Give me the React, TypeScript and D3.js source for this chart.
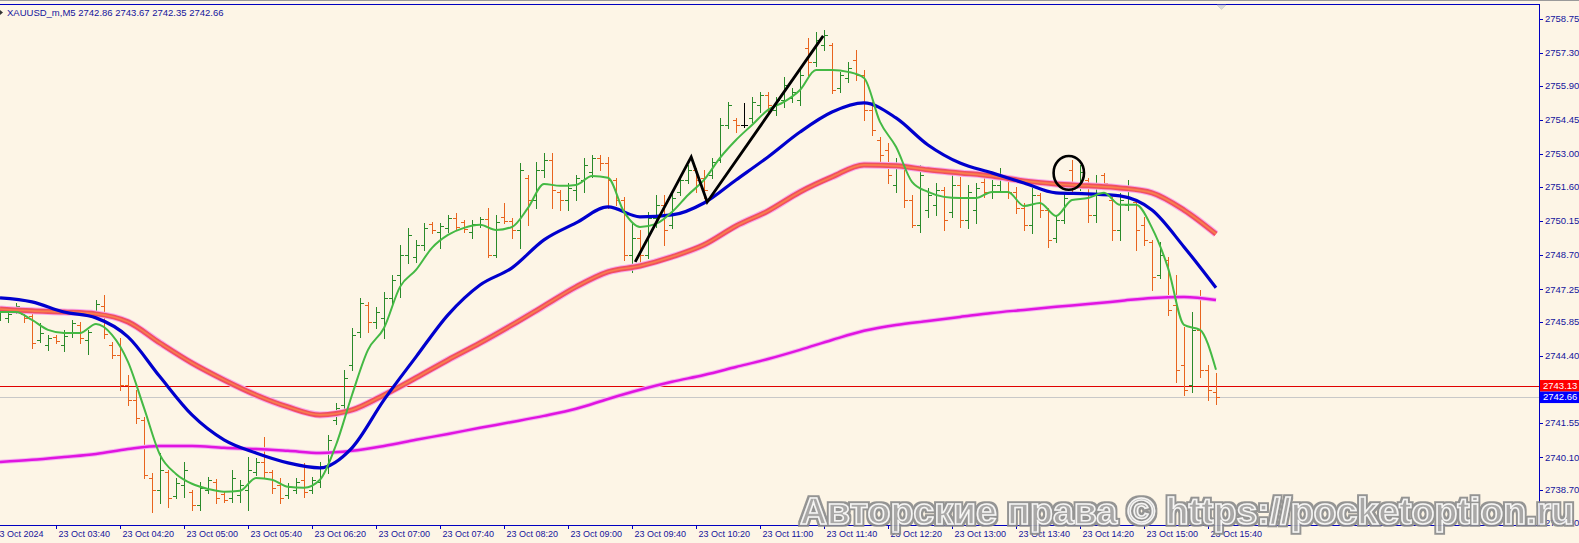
import React from "react";
import * as d3 from "d3";

// chart header
const symbolTitle = "XAUUSD_m,M5  2742.86 2743.67 2742.35 2742.66";

// bottom axis labels, one every 8 bars (40 min), first one sits one bar before the first bar
const timeLabels = [
  "23 Oct 2024", "23 Oct 03:40", "23 Oct 04:20", "23 Oct 05:00", "23 Oct 05:40",
  "23 Oct 06:20", "23 Oct 07:00", "23 Oct 07:40", "23 Oct 08:20", "23 Oct 09:00",
  "23 Oct 09:40", "23 Oct 10:20", "23 Oct 11:00", "23 Oct 11:40", "23 Oct 12:20",
  "23 Oct 13:00", "23 Oct 13:40", "23 Oct 14:20", "23 Oct 15:00", "23 Oct 15:40",
];

// right axis labels
const priceTicks = [
  2758.75, 2757.3, 2755.9, 2754.45, 2753.0, 2751.6, 2750.15, 2748.7, 2747.25,
  2745.85, 2744.4, 2741.55, 2740.1, 2738.7, 2737.3,
];

const linePrice = 2743.13; // red horizontal line
const bidPrice = 2742.66; // gray bid line

// M5 bars, open / high / low / close, 03:05 .. 15:45
const ohlc: [number, number, number, number][] = [
  [2746.11, 2746.45, 2745.94, 2746.33], [2746.03, 2746.28, 2745.86, 2746.2],
  [2746.33, 2746.66, 2746.24, 2746.54], [2746.2, 2746.28, 2745.86, 2746.03],
  [2746.11, 2746.24, 2744.75, 2744.96], [2745.09, 2745.81, 2745.01, 2745.39],
  [2744.88, 2745.31, 2744.67, 2745.18], [2745.22, 2745.31, 2744.96, 2745.05],
  [2744.88, 2745.52, 2744.62, 2745.26], [2745.43, 2745.94, 2745.22, 2745.81],
  [2745.73, 2745.86, 2744.96, 2745.18], [2745.09, 2745.52, 2744.5, 2745.43],
  [2746.2, 2746.79, 2746.07, 2746.62], [2746.54, 2747.01, 2745.18, 2745.35],
  [2744.88, 2745.01, 2744.33, 2744.46], [2744.46, 2745.18, 2742.97, 2743.18],
  [2743.18, 2743.61, 2742.33, 2742.54], [2742.54, 2742.97, 2741.56, 2741.77],
  [2741.69, 2741.82, 2739.22, 2739.35], [2739.22, 2739.43, 2737.77, 2738.71],
  [2738.71, 2740.28, 2738.16, 2739.56], [2739.48, 2739.56, 2737.99, 2738.37],
  [2738.46, 2739.22, 2738.37, 2739.01], [2738.92, 2739.9, 2738.42, 2739.56],
  [2738.63, 2738.71, 2737.86, 2738.07], [2738.07, 2739.05, 2737.86, 2738.8],
  [2738.71, 2739.26, 2738.58, 2739.14], [2739.05, 2739.18, 2738.16, 2738.37],
  [2738.54, 2738.63, 2738.2, 2738.29], [2738.37, 2739.56, 2738.2, 2739.22],
  [2738.5, 2739.14, 2738.2, 2738.92], [2738.71, 2740.11, 2737.86, 2739.56],
  [2739.48, 2740.07, 2739.35, 2739.9], [2739.9, 2740.97, 2739.26, 2739.48],
  [2739.48, 2739.56, 2738.58, 2738.8], [2738.92, 2739.22, 2738.16, 2738.37],
  [2738.5, 2739.01, 2738.37, 2738.84], [2738.71, 2739.22, 2738.58, 2739.05],
  [2739.14, 2739.86, 2738.42, 2738.63], [2738.71, 2739.26, 2738.58, 2739.14],
  [2739.05, 2739.9, 2738.84, 2739.73], [2739.73, 2741.05, 2739.43, 2740.84],
  [2741.69, 2742.41, 2741.52, 2742.2], [2742.33, 2743.82, 2742.11, 2743.48],
  [2744.03, 2745.6, 2743.82, 2745.31], [2745.43, 2746.88, 2745.22, 2746.66],
  [2746.58, 2746.71, 2745.43, 2745.86], [2745.86, 2746.5, 2745.6, 2746.28],
  [2746.03, 2747.14, 2745.18, 2746.88], [2746.88, 2747.86, 2746.66, 2747.65],
  [2747.86, 2749.14, 2746.92, 2748.71], [2748.71, 2749.86, 2748.37, 2749.56],
  [2748.63, 2749.35, 2748.41, 2749.14], [2749.14, 2750.07, 2748.92, 2749.86],
  [2750.03, 2750.11, 2749.65, 2749.77], [2749.69, 2750.07, 2749.01, 2749.94],
  [2749.86, 2750.41, 2749.69, 2750.28], [2750.28, 2750.5, 2749.77, 2749.9],
  [2750.11, 2750.2, 2749.69, 2749.82], [2749.69, 2750.2, 2749.43, 2750.03],
  [2750.03, 2750.33, 2749.9, 2750.24], [2750.24, 2750.71, 2748.63, 2748.71],
  [2748.71, 2750.41, 2748.63, 2750.11], [2750.33, 2750.92, 2750.07, 2750.16],
  [2750.16, 2750.28, 2749.43, 2749.77], [2749.77, 2752.62, 2749.01, 2752.33],
  [2751.99, 2752.11, 2749.99, 2751.05], [2751.05, 2752.67, 2750.71, 2752.33],
  [2752.33, 2753.05, 2752.03, 2752.75], [2752.75, 2753.05, 2750.71, 2751.48],
  [2751.39, 2751.48, 2750.62, 2751.05], [2751.05, 2751.77, 2750.62, 2751.56],
  [2751.48, 2752.11, 2751.05, 2751.99], [2751.9, 2752.84, 2751.39, 2752.54],
  [2752.24, 2752.97, 2752.03, 2752.84], [2752.84, 2752.97, 2752.33, 2752.62],
  [2752.62, 2752.88, 2750.71, 2751.9], [2751.9, 2751.99, 2750.84, 2751.05],
  [2751.05, 2751.18, 2748.5, 2748.71], [2748.71, 2750.11, 2747.99, 2749.43],
  [2749.43, 2749.77, 2748.37, 2748.71], [2748.71, 2750.54, 2748.58, 2750.28],
  [2750.28, 2751.26, 2749.9, 2750.84], [2750.84, 2751.26, 2749.14, 2749.77],
  [2749.99, 2751.39, 2749.86, 2751.13], [2751.39, 2752.11, 2751.26, 2751.9],
  [2751.9, 2752.54, 2751.77, 2752.33], [2752.33, 2752.41, 2751.39, 2751.9],
  [2751.99, 2752.33, 2751.13, 2751.48], [2752.11, 2752.84, 2751.99, 2752.67],
  [2752.75, 2754.54, 2752.67, 2754.24], [2754.24, 2755.22, 2754.11, 2755.09],
  [2754.45, 2754.54, 2753.94, 2754.24], [2754.24, 2755.18, 2754.15, 2754.24],
  [2754.54, 2755.43, 2754.37, 2755.22], [2755.09, 2755.65, 2754.79, 2755.52],
  [2755.52, 2755.65, 2754.75, 2755.09], [2754.88, 2755.43, 2754.67, 2755.31],
  [2755.31, 2756.28, 2755.01, 2755.94], [2755.39, 2755.82, 2755.22, 2755.65],
  [2755.31, 2756.58, 2755.09, 2756.37], [2757.52, 2757.94, 2756.37, 2756.92],
  [2756.92, 2758.2, 2756.75, 2757.86], [2757.65, 2758.28, 2757.43, 2758.07],
  [2757.65, 2757.73, 2755.6, 2755.73], [2755.82, 2756.5, 2755.65, 2756.37],
  [2756.24, 2756.92, 2756.07, 2756.67], [2757.01, 2757.43, 2756.16, 2756.37],
  [2756.37, 2756.58, 2754.45, 2754.88], [2754.88, 2755.22, 2753.82, 2754.03],
  [2753.6, 2753.73, 2752.67, 2752.97], [2753.18, 2753.48, 2751.77, 2752.11],
  [2751.69, 2752.84, 2751.39, 2752.54], [2752.54, 2752.62, 2750.75, 2751.05],
  [2751.05, 2751.26, 2749.9, 2749.99], [2749.99, 2752.54, 2749.69, 2752.11],
  [2750.62, 2751.56, 2750.33, 2751.26], [2750.84, 2751.77, 2750.41, 2751.48],
  [2751.48, 2751.6, 2749.77, 2750.2], [2750.54, 2752.11, 2750.33, 2751.69],
  [2751.69, 2752.03, 2749.9, 2750.2], [2750.2, 2751.69, 2749.86, 2751.39],
  [2750.62, 2751.77, 2750.07, 2751.56], [2751.82, 2752.03, 2751.18, 2751.39],
  [2751.39, 2751.9, 2751.13, 2751.69], [2751.69, 2752.41, 2751.48, 2752.11],
  [2751.9, 2751.99, 2751.13, 2751.39], [2751.39, 2751.6, 2750.5, 2750.71],
  [2750.71, 2750.92, 2749.77, 2749.99], [2749.99, 2751.56, 2749.65, 2751.26],
  [2751.26, 2751.35, 2750.33, 2750.62], [2750.62, 2750.71, 2749.05, 2749.35],
  [2749.43, 2750.41, 2749.26, 2750.2], [2750.2, 2751.35, 2750.07, 2751.13],
  [2752.33, 2752.75, 2751.39, 2751.56], [2751.56, 2752.54, 2751.48, 2752.24],
  [2751.9, 2751.99, 2750.11, 2750.41], [2750.41, 2752.11, 2750.11, 2751.69],
  [2752.11, 2752.2, 2751.69, 2751.77], [2751.05, 2751.18, 2749.35, 2749.77],
  [2749.77, 2751.35, 2749.35, 2751.05], [2750.84, 2751.9, 2750.62, 2751.48],
  [2750.96, 2751.05, 2748.92, 2749.77], [2749.99, 2750.33, 2749.14, 2749.35],
  [2749.26, 2749.35, 2747.22, 2747.77], [2747.86, 2749.26, 2747.73, 2748.71],
  [2748.5, 2748.63, 2746.16, 2746.37], [2746.58, 2747.86, 2743.31, 2743.82],
  [2744.03, 2745.65, 2742.75, 2742.97], [2743.18, 2746.28, 2742.88, 2745.52],
  [2745.52, 2747.22, 2743.52, 2743.82], [2743.82, 2744.03, 2742.54, 2742.97],
  [2742.86, 2743.67, 2742.35, 2742.66],
];

// moving averages, read every 4th bar starting with the first bar
const blueMA = [
  2746.88, 2746.71, 2746.28, 2746.03, 2745.22, 2743.52, 2741.9, 2740.84, 2740.28,
  2739.86, 2739.65, 2740.5, 2742.54, 2744.37, 2746.16, 2747.43, 2748.16, 2749.35,
  2750.07, 2750.75, 2750.33, 2750.41, 2750.92, 2751.9, 2752.88, 2753.94, 2754.79,
  2755.18, 2754.54, 2753.39, 2752.62, 2752.2, 2751.77, 2751.35, 2751.31, 2751.22,
  2750.62, 2749.05, 2747.31,
];
const redMA = [
  2746.41, 2746.33, 2746.28, 2746.2, 2745.86, 2744.96, 2744.11, 2743.39, 2742.75,
  2742.24, 2741.9, 2742.11, 2742.75, 2743.48, 2744.24, 2744.96, 2745.73, 2746.54,
  2747.35, 2747.99, 2748.24, 2748.63, 2749.14, 2749.94, 2750.58, 2751.39, 2752.03,
  2752.54, 2752.5, 2752.33, 2752.2, 2752.07, 2751.86, 2751.73, 2751.65, 2751.56,
  2751.35, 2750.62, 2749.6,
];
const magentaMA = [
  2739.9, 2739.99, 2740.11, 2740.24, 2740.45, 2740.58, 2740.58, 2740.5, 2740.45,
  2740.37, 2740.28, 2740.37, 2740.58, 2740.84, 2741.09, 2741.35, 2741.6, 2741.86,
  2742.16, 2742.58, 2742.97, 2743.31, 2743.6, 2743.94, 2744.28, 2744.67, 2745.09,
  2745.48, 2745.73, 2745.9, 2746.07, 2746.24, 2746.37, 2746.5, 2746.62, 2746.75,
  2746.88, 2746.92, 2746.79,
];
// fast MA, read every 2nd bar starting with the first bar
const greenMA = [
  2746.28, 2746.28, 2745.94, 2745.52, 2745.39, 2745.39, 2745.77, 2745.31, 2744.16,
  2742.2, 2740.2, 2739.39, 2738.97, 2738.75, 2738.63, 2738.67, 2739.22, 2739.14,
  2738.84, 2738.8, 2739.14, 2740.62, 2742.75, 2744.67, 2745.6, 2747.35, 2748.07,
  2749.01, 2749.56, 2749.86, 2749.99, 2749.77, 2749.9, 2750.71, 2751.73, 2751.65,
  2751.69, 2752.07, 2751.99, 2750.54, 2749.9, 2750.03, 2750.54, 2751.26, 2751.9,
  2752.84, 2753.6, 2754.24, 2754.88, 2755.22, 2755.73, 2756.58, 2756.58, 2756.5,
  2756.24, 2754.37, 2753.31, 2751.82, 2751.39, 2751.18, 2751.13, 2751.13, 2751.39,
  2751.39, 2750.79, 2750.92, 2750.37, 2751.05, 2751.13, 2751.35, 2750.84, 2750.84,
  2749.86, 2748.16, 2745.73, 2745.52, 2743.82,
];

// hand drawn zigzag: [bar offset from 03:40, price]
const zigzag: [number, number][] = [
  [72.4, 2748.41], [79.4, 2752.88], [81.4, 2750.96], [95.9, 2758.03],
];
// hand drawn ellipse: centre bar, centre price, half width in bars, half height in price
const ellipseMark = [126.6, 2752.2, 1.9, 0.72];

const watermark = "Авторские права © https://pocketoption.ru";

export default function App() {
  const width = 1579;
  const height = 543;
  const plotRight = 1539;
  const plotTop = 4;
  const plotBottom = 525;
  const firstBar = -7;
  const font = "'Liberation Sans', Arial, sans-serif";
  const axisColor = "#0000c0";
  const textColor = "#14149c";

  // bar offset (5-min steps from 03:40) -> pixel
  const x = d3.scaleLinear().domain([-8, 145]).range([-8, 1216]);
  const y = d3.scaleLinear().domain([2737.3, 2758.75]).range([523, 19]);
  const crisp = (v: number) => Math.round(v) + 0.5;

  const maLine = (step: number) =>
    d3
      .line<number>()
      .x((_d, i) => x(firstBar + i * step))
      .y((d) => y(d))
      .curve(d3.curveMonotoneX);

  const bluePath = maLine(4)(blueMA) || "";
  const redPath = maLine(4)(redMA) || "";
  const magentaPath = maLine(4)(magentaMA) || "";
  const greenPath = maLine(2)(greenMA) || "";
  const zigPath =
    d3
      .line<[number, number]>()
      .x((d) => x(d[0]))
      .y((d) => y(d[1]))(zigzag) || "";

  const [ec, ep, erx, ery] = ellipseMark;
  const lastX = x(firstBar + ohlc.length - 1);

  return (
    <svg
      width={width}
      height={height}
      style={{ position: "absolute", left: 0, top: 0, background: "#fdf5e6" }}
      fontFamily={font}
    >
      <rect x={0} y={0} width={width} height={height} fill="#fdf5e6" />
      <defs>
        <clipPath id="plot">
          <rect x={0} y={plotTop} width={plotRight} height={plotBottom - plotTop} />
        </clipPath>
        {/* grey outer rim round the watermark letters */}
        <filter id="wm-rim" x="-5%" y="-30%" width="110%" height="160%">
          <feMorphology in="SourceAlpha" operator="dilate" radius="2.2" result="fat" />
          <feFlood floodColor="#8c8c8c" />
          <feComposite in2="fat" operator="in" result="rim" />
          <feMerge>
            <feMergeNode in="rim" />
            <feMergeNode in="SourceGraphic" />
          </feMerge>
        </filter>
      </defs>

      <g clipPath="url(#plot)">
        <line x1={0} x2={plotRight} y1={crisp(y(bidPrice))} y2={crisp(y(bidPrice))} stroke="#c8c8c8" />
        <line x1={0} x2={plotRight} y1={crisp(y(linePrice))} y2={crisp(y(linePrice))} stroke="#e00000" />

        {ohlc.map((b, i) => {
          const [o, h, l, c] = b;
          const cx = crisp(x(firstBar + i));
          const col = c > o ? "#2a8a2a" : c < o ? "#e8641e" : "#000000";
          return (
            <g key={i} stroke={col} strokeWidth={1}>
              <line x1={cx} x2={cx} y1={Math.round(y(h))} y2={Math.round(y(l)) + 1} />
              <line x1={cx - 3.5} x2={cx} y1={crisp(y(o))} y2={crisp(y(o))} />
              <line x1={cx} x2={cx + 3.5} y1={crisp(y(c))} y2={crisp(y(c))} />
            </g>
          );
        })}

        <path d={magentaPath} fill="none" stroke="#f4b4f0" strokeWidth={4.5} />
        <path d={magentaPath} fill="none" stroke="#e014e0" strokeWidth={2.5} />
        <path d={redPath} fill="none" stroke="#f7a8ee" strokeWidth={7} />
        <path d={redPath} fill="none" stroke="#f0505e" strokeWidth={5} />
        <path d={redPath} fill="none" stroke="#f8804c" strokeWidth={1.6} />
        <path d={bluePath} fill="none" stroke="#0000cd" strokeWidth={3.2} />
        <path d={greenPath} fill="none" stroke="#44b944" strokeWidth={2} />

        <path d={zigPath} fill="none" stroke="#000" strokeWidth={2.8} strokeLinejoin="miter" />
        <ellipse
          cx={x(ec)}
          cy={y(ep)}
          rx={x(ec + erx) - x(ec)}
          ry={y(ep - ery) - y(ep)}
          fill="none"
          stroke="#000"
          strokeWidth={2.6}
        />
      </g>

      {/* frame */}
      <line x1={0} x2={width} y1={0.5} y2={0.5} stroke="#9a9a9a" />
      <line x1={0} x2={plotRight} y1={plotTop + 0.5} y2={plotTop + 0.5} stroke={axisColor} />
      <line x1={plotRight + 0.5} x2={plotRight + 0.5} y1={plotTop} y2={plotBottom + 1} stroke={axisColor} />
      <line x1={0} x2={plotRight} y1={plotBottom + 0.5} y2={plotBottom + 0.5} stroke={axisColor} />

      {/* chart shift marker */}
      <path
        d={`M${lastX + 1},${plotTop + 1}h9l-4.5,4.5z`}
        fill="#d8d8d8"
        stroke="#c0c0c0"
        strokeWidth={0.5}
      />
      <path d={`M0,10l3,2.5l-3,2.5z`} fill="#333" />

      <text x={7} y={16} fontSize={9.5} fill={textColor}>
        {symbolTitle}
      </text>

      {/* price axis */}
      {priceTicks.map((p) => (
        <g key={p}>
          <line x1={plotRight} x2={plotRight + 4} y1={crisp(y(p))} y2={crisp(y(p))} stroke={axisColor} />
          <text x={plotRight + 6} y={y(p)} dy="0.35em" fontSize={9.5} fill={textColor}>
            {p.toFixed(2)}
          </text>
        </g>
      ))}
      <rect x={plotRight + 1} y={y(linePrice) - 6} width={width - plotRight} height={11.5} fill="#ff0000" />
      <text x={plotRight + 4} y={y(linePrice)} dy="0.35em" fontSize={9.5} fill="#fff">
        {linePrice.toFixed(2)}
      </text>
      <rect x={plotRight + 1} y={y(bidPrice) - 5.5} width={width - plotRight} height={11.5} fill="#0000ff" />
      <text x={plotRight + 4} y={y(bidPrice)} dy="0.35em" fontSize={9.5} fill="#fff">
        {bidPrice.toFixed(2)}
      </text>

      {/* time axis */}
      {timeLabels.map((t, k) => {
        const tx = crisp(x(-8 + k * 8));
        return (
          <g key={t}>
            <line x1={tx} x2={tx} y1={plotBottom} y2={plotBottom + 4} stroke={axisColor} />
            <text x={tx + 2} y={537} fontSize={9} fill={textColor}>
              {t}
            </text>
          </g>
        );
      })}

      {/* watermark */}
      <text
        x={800}
        y={524}
        textLength={774}
        lengthAdjust="spacingAndGlyphs"
        fontSize={36}
        fontWeight="bold"
        fill="#a2a2a2"
        stroke="#f6f6f6"
        strokeWidth={1.5}
        filter="url(#wm-rim)"
        opacity={0.92}
      >
        {watermark}
      </text>
    </svg>
  );
}
